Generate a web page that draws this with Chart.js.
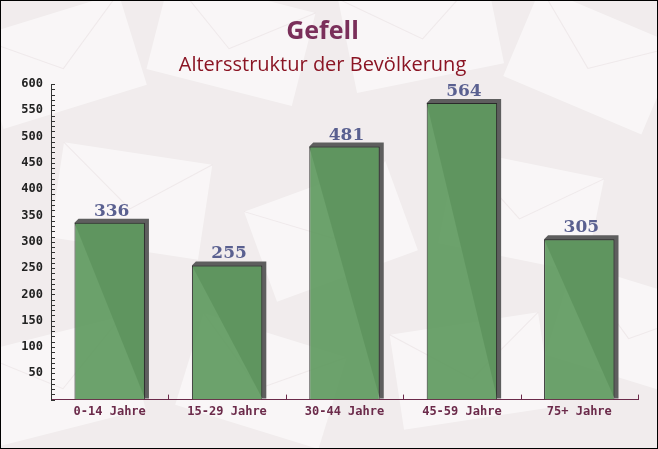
<!DOCTYPE html>
<html>
<head>
<meta charset="utf-8">
<script src="https://cdn.jsdelivr.net/npm/chart.js@4/dist/chart.umd.min.js"></script>
<style>
  html, body { margin: 0; padding: 0; background: #fff; }
  #wrap { width: 658px; height: 449px; box-sizing: border-box; border: 1px solid #000; }
  canvas { display: block; }
</style>
</head>
<body>
<div id="wrap"><canvas id="c" width="656" height="447"></canvas></div>
<script>
const categories = ['0-14 Jahre', '15-29 Jahre', '30-44 Jahre', '45-59 Jahre', '75+ Jahre'];
const population = [336, 255, 481, 564, 305];
const yMax = 600;

// faint envelope pattern in the background
const backdrop = {
  id: 'backdrop',
  beforeDraw(chart) {
    const { ctx, width, height } = chart;
    ctx.save();
    ctx.fillStyle = '#f1eced';
    ctx.fillRect(0, 0, width, height);
    const env = [[60, 60, -0.3], [230, 40, 0.25], [420, 30, -0.2], [590, 60, 0.4],
                 [130, 200, 0.15], [330, 230, -0.35], [520, 210, 0.2],
                 [60, 380, -0.25], [260, 380, 0.3], [470, 370, -0.15], [630, 330, 0.3]];
    env.forEach(([x, y, a]) => {
      ctx.save();
      ctx.translate(x, y);
      ctx.rotate(a);
      ctx.fillStyle = 'rgba(255,255,255,0.55)';
      ctx.fillRect(-75, -48, 150, 96);
      ctx.strokeStyle = 'rgba(220,210,212,0.35)';
      ctx.beginPath();
      ctx.moveTo(-75, -48); ctx.lineTo(0, 8); ctx.lineTo(75, -48);
      ctx.stroke();
      ctx.restore();
    });
    ctx.restore();
  }
};

// grey 3d side behind each bar
const barShadow = {
  id: 'barShadow',
  beforeDatasetsDraw(chart) {
    const { ctx } = chart;
    const d = 4;
    ctx.save();
    ctx.fillStyle = '#5e5e5e';
    chart.getDatasetMeta(0).data.forEach(bar => {
      const l = bar.x - bar.width / 2, r = bar.x + bar.width / 2;
      ctx.beginPath();
      ctx.moveTo(l, bar.y);
      ctx.lineTo(l + d, bar.y - d);
      ctx.lineTo(r + d, bar.y - d);
      ctx.lineTo(r + d, bar.base - 1);
      ctx.lineTo(r, bar.base - 1);
      ctx.closePath();
      ctx.fill();
    });
    ctx.restore();
  }
};

// value labels, inner ticks
const extras = {
  id: 'extras',
  afterDatasetsDraw(chart) {
    const { ctx, chartArea } = chart;
    const ys = chart.scales.y, xs = chart.scales.x;
    ctx.save();
    ctx.strokeStyle = '#333';
    ctx.lineWidth = 1;
    ys.ticks.forEach(t => {
      const py = Math.round(ys.getPixelForValue(t.value)) + 0.5;
      ctx.beginPath();
      ctx.moveTo(chartArea.left, py);
      ctx.lineTo(chartArea.left + 4, py);
      ctx.stroke();
    });
    ctx.strokeStyle = '#6b2a4a';
    for (let i = 1; i <= categories.length; i++) {
      const px = Math.round(xs.getPixelForValue(i - 0.5)) + 0.5;
      ctx.beginPath();
      ctx.moveTo(px, chartArea.bottom);
      ctx.lineTo(px, chartArea.bottom - 5);
      ctx.stroke();
    }
    ctx.fillStyle = '#5a6090';
    ctx.font = 'bold 17px "DejaVu Serif"';
    ctx.textAlign = 'center';
    ctx.textBaseline = 'bottom';
    chart.getDatasetMeta(0).data.forEach((bar, i) => {
      ctx.fillText(population[i], bar.x + 2, bar.y - 3);
    });
    ctx.restore();
  }
};

new Chart(document.getElementById('c'), {
  type: 'bar',
  data: {
    labels: categories,
    datasets: [{
      data: population,
      backgroundColor: 'rgba(96,154,96,0.92)',
      borderColor: '#2a2a2a',
      borderWidth: 1,
      barPercentage: 0.6,
      categoryPercentage: 1
    }]
  },
  options: {
    responsive: false,
    animation: false,
    layout: { padding: { left: 6, right: 19, bottom: 24 } },
    plugins: {
      legend: { display: false },
      tooltip: { enabled: false },
      title: {
        display: true,
        text: 'Gefell',
        color: '#7a2f5a',
        font: { family: '"Open Sans"', size: 25, weight: 'bold' },
        padding: { top: 16, bottom: 2 }
      },
      subtitle: {
        display: true,
        text: 'Altersstruktur der Bevölkerung',
        color: '#8b1524',
        font: { family: '"Open Sans"', size: 20 },
        padding: { top: 4, bottom: 7 }
      }
    },
    scales: {
      x: {
        grid: { display: false, drawTicks: false },
        border: { color: '#6b2a4a', width: 1 },
        ticks: {
          color: '#6b2a4a',
          font: { family: '"DejaVu Sans Mono"', size: 12, weight: 'bold' },
          padding: 5,
          maxRotation: 0
        }
      },
      y: {
        min: 0,
        max: yMax,
        grid: { display: false, drawTicks: false },
        border: { color: '#333', width: 1 },
        afterFit(scale) { scale.width = 44; },
        ticks: {
          stepSize: 10,
          autoSkip: false,
          color: '#222',
          padding: 8,
          font: { family: '"DejaVu Sans Mono"', size: 12, weight: 'bold' },
          callback: v => (v % 50 === 0 && v !== 0) ? v : ''
        }
      }
    }
  },
  plugins: [backdrop, barShadow, extras]
});
</script>
</body>
</html>
